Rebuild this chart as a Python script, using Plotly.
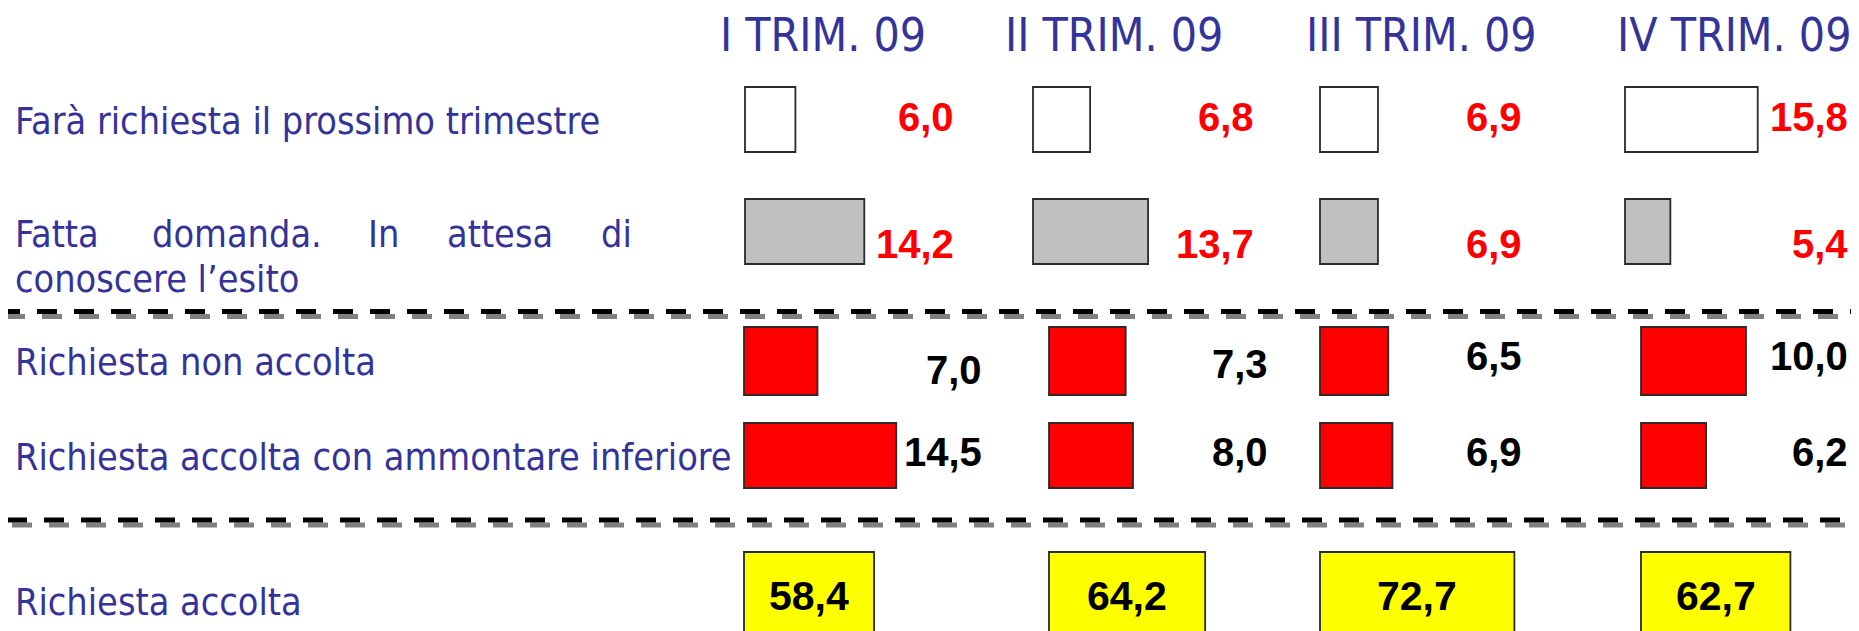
import plotly.graph_objects as go

# data
trimestri = ["I TRIM. 09", "II TRIM. 09", "III TRIM. 09", "IV TRIM. 09"]
voci = [
    "Farà richiesta il prossimo trimestre",
    "Fatta domanda. In attesa di conoscere l\u2019esito",
    "Richiesta non accolta",
    "Richiesta accolta con ammontare inferiore",
    "Richiesta accolta",
]
fara_richiesta = [6.0, 6.8, 6.9, 15.8]
in_attesa = [14.2, 13.7, 6.9, 5.4]
non_accolta = [7.0, 7.3, 6.5, 10.0]
accolta_inferiore = [14.5, 8.0, 6.9, 6.2]
accolta = [58.4, 64.2, 72.7, 62.7]

# layout (page pixels)
W, H = 1859, 631
PAD = 8  # body margin of the html page
BLUE = "#333399"
start_top = [745, 1033, 1320, 1625]
start_mid = [744, 1049, 1320, 1641]
start_bot = [744, 1049, 1320, 1641]
lab_right_top = [956, 1256, 1524, 1850]
lab_right_mid = [984, 1270, 1524, 1850]
lab_y_row3 = [370, 364, 356, 356]
title_x = [823, 1114, 1421, 1734]


def top_len(v):
    return v * 8.4


def mid_len(v):
    return v * 10.5


def bot_len(v):
    return 4.5 * (v - 29.5)


def fmt(v):
    return f"{v:.1f}".replace(".", ",")


fig = go.Figure()

rows = [
    (fara_richiesta, start_top, top_len, 119.5, 65, "white"),
    (in_attesa, start_top, top_len, 231.5, 65, "#c0c0c0"),
    (non_accolta, start_mid, mid_len, 361, 68, "#ff0000"),
    (accolta_inferiore, start_mid, mid_len, 455.5, 65, "#ff0000"),
    (accolta, start_bot, bot_len, 602, 100, "#ffff00"),
]
for vals, starts, scale, yc, h, col in rows:
    fig.add_trace(go.Bar(
        orientation="h",
        y=[yc] * len(vals),
        x=[scale(v) for v in vals],
        base=starts,
        width=h,
        marker=dict(color=col, line=dict(color="#2b2b2b", width=1.8)),
        hoverinfo="skip",
        showlegend=False))

ann = []
# quarter headers
for t, x in zip(trimestri, title_x):
    ann.append(dict(x=x, y=35, text=t, font=dict(size=46, color=BLUE)))

# value labels
num_font = dict(family="Liberation Sans, Arial", size=40, color="#ff0000", weight="bold")
for vals, yc in [(fara_richiesta, 117), (in_attesa, 244)]:
    for v, xr in zip(vals, lab_right_top):
        ann.append(dict(x=xr, y=yc, text=fmt(v), xanchor="right", font=num_font))
blk_font = dict(num_font, color="black")
for v, xr, yc in zip(non_accolta, lab_right_mid, lab_y_row3):
    ann.append(dict(x=xr, y=yc, text=fmt(v), xanchor="right", font=blk_font))
for v, xr in zip(accolta_inferiore, lab_right_mid):
    ann.append(dict(x=xr, y=452, text=fmt(v), xanchor="right", font=blk_font))
for v, xs in zip(accolta, start_bot):
    ann.append(dict(x=xs + bot_len(v) / 2, y=596, text=fmt(v), font=dict(blk_font, size=41)))

# row labels
lab_font = dict(family="DejaVu Sans Condensed, DejaVu Sans", size=37.5, color=BLUE)
ann.append(dict(x=13, y=121, text=voci[0], xanchor="left", font=lab_font))
words = voci[1].split(" ")
word_x = [13, 150, 366, 445, 599]
for w, x in zip(words[:5], word_x):
    ann.append(dict(x=x, y=234, text=w, xanchor="left", font=lab_font))
ann.append(dict(x=13, y=279, text=" ".join(words[5:]), xanchor="left", font=lab_font))
ann.append(dict(x=13, y=362, text=voci[2], xanchor="left", font=lab_font))
ann.append(dict(x=13, y=457, text=voci[3], xanchor="left", font=lab_font))
ann.append(dict(x=13, y=602, text=voci[4], xanchor="left", font=lab_font))

for a in ann:
    a.update(xref="x", yref="y", showarrow=False)
    a.setdefault("xanchor", "center")
    a.setdefault("yanchor", "middle")
    a["font"].setdefault("family", "DejaVu Sans Condensed, DejaVu Sans")

# dashed separators with grey shadow
shapes = []
for y, x0 in [(311.5, 0), (520, 7)]:
    shapes.append(dict(type="line", xref="x", yref="y", x0=x0 + 5, x1=W + 5, y0=y + 5, y1=y + 5,
                       line=dict(color="#808080", width=5, dash="20px,17px"), layer="below"))
    shapes.append(dict(type="line", xref="x", yref="y", x0=x0, x1=W, y0=y, y1=y,
                       line=dict(color="black", width=5, dash="20px,17px"), layer="below"))

fig.update_layout(
    width=W, height=H,
    margin=dict(l=0, r=0, t=0, b=0),
    paper_bgcolor="white", plot_bgcolor="white",
    barmode="overlay",
    xaxis=dict(range=[PAD, W + PAD], visible=False, fixedrange=True),
    yaxis=dict(range=[H + PAD, PAD], visible=False, fixedrange=True),
    annotations=ann,
    shapes=shapes,
)

fig.write_html("out.html")
